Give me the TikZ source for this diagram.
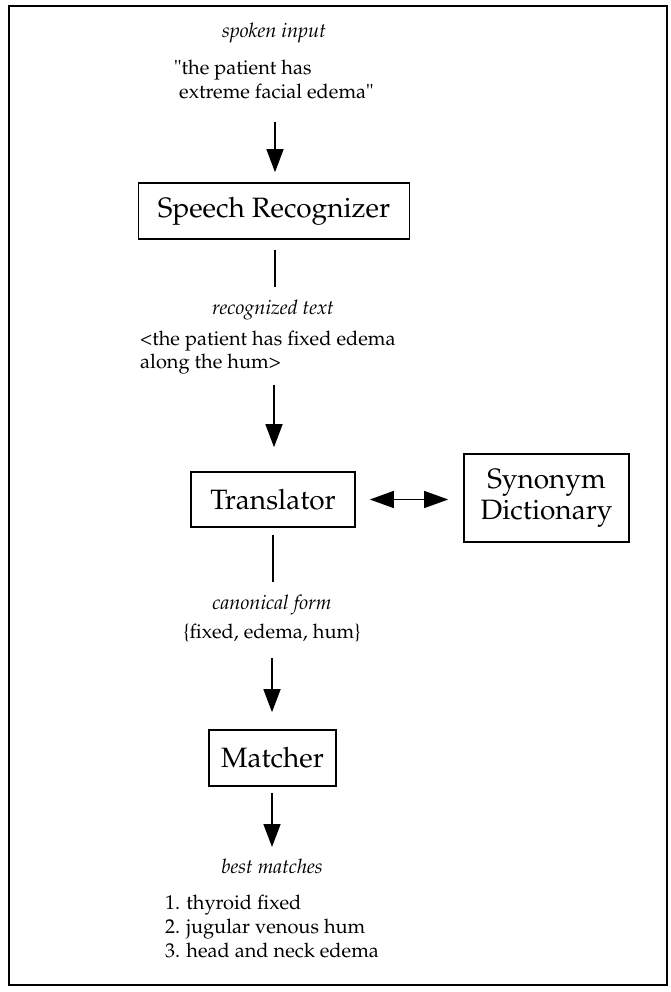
\documentclass[tikz,border=0pt]{standalone}
\usepackage[T1]{fontenc}
\usepackage{mathpazo}
\usetikzlibrary{arrows.meta}
\begin{document}
\begin{tikzpicture}[x=1pt,y=-1pt,
  box/.style={draw, line width=1.6pt, inner sep=0pt, align=center, font=\fontsize{28}{30}\selectfont},
  lbl/.style={inner sep=0pt, font=\fontsize{20}{22}\selectfont\itshape},
  txt/.style={inner sep=0pt, anchor=base west, font=\fontsize{20}{22}\selectfont},
  arr/.style={line width=1.5pt, -{Triangle[length=23pt,width=17pt]}},
  dbl/.style={line width=1.2pt, {Triangle[length=24pt,width=17pt]}-{Triangle[length=24pt,width=17pt]}},
  ln/.style={line width=1.5pt}]
\useasboundingbox (0,0) rectangle (671,992);
\draw[line width=1.3pt] (9,6) rectangle (667,985);

% texts
\node[lbl, anchor=base] (spk) at (274,38) {spoken input};
\node[txt] (in1) at (174,75) {\textquotedbl the patient has};
\node[txt] (in2) at (179,99) {extreme facial edema\textquotedbl};

% boxes
\node[box, minimum width=271pt, minimum height=56pt] (sr) at (274,211) {Speech Recognizer};
\node[box, minimum width=164pt, minimum height=55pt] (tr) at (273,499.5) {Translator};
\node[box, minimum width=165pt, minimum height=88pt, font=\fontsize{28}{31}\selectfont] (syn) at (546.5,498) {Synonym\\Dictionary};
\node[box, minimum width=127pt, minimum height=56pt] (mt) at (272.5,758) {Matcher};

\node[lbl, anchor=base] (rt) at (273,314) {recognized text};
\node[txt] (rt1) at (140,345) {\textless the patient has fixed edema};
\node[txt] (rt2) at (140,368) {along the hum\textgreater};

\node[lbl, anchor=base] (cf) at (272,609) {canonical form};
\node[txt, anchor=base] (cf1) at (272,638) {\{fixed, edema, hum\}};

\node[lbl, anchor=base] (bm) at (272,873) {best matches};
\node[txt] (m1) at (165,909) {1. thyroid fixed};
\node[txt] (m2) at (165,933) {2. jugular venous hum};
\node[txt] (m3) at (165,957) {3. head and neck edema};

% connectors
\coordinate (a1s) at (275,122);
\draw[arr, shorten >=10pt] (a1s) -- (a1s |- sr.north);
\coordinate (l1e) at (275,287);
\draw[ln, shorten <=10pt] (l1e |- sr.south) -- (l1e);
\coordinate (a2s) at (274,385);
\draw[arr, shorten >=24pt] (a2s) -- (a2s |- tr.north);
\draw[dbl, shorten <=14pt, shorten >=15pt] (tr.east) -- (tr.east -| syn.west);
\coordinate (l2e) at (273,582);
\draw[ln, shorten <=7pt] (l2e |- tr.south) -- (l2e);
\coordinate (a3s) at (272,658);
\draw[arr, shorten >=17pt] (a3s) -- (a3s |- mt.north);
\coordinate (a4e) at (272,847);
\draw[arr, shorten <=6pt] (a4e |- mt.south) -- (a4e);
\end{tikzpicture}
\end{document}
